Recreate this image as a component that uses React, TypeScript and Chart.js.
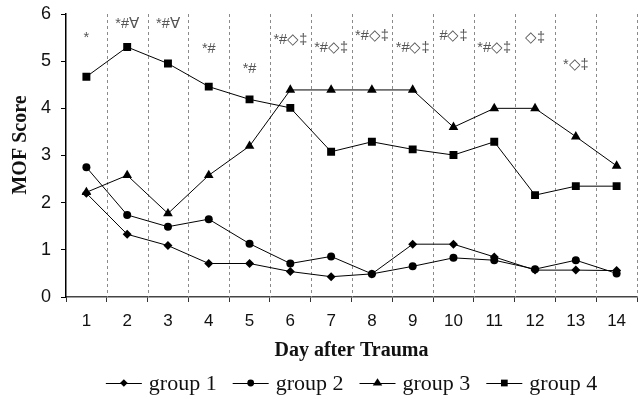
import React, { useEffect, useRef } from "react";
import { Chart, registerables } from "chart.js";

Chart.register(...registerables);

const days = ["1", "2", "3", "4", "5", "6", "7", "8", "9", "10", "11", "12", "13", "14"];
const group1 = [2.2, 1.33, 1.09, 0.71, 0.71, 0.54, 0.43, 0.49, 1.12, 1.12, 0.85, 0.57, 0.57, 0.56];
const group2 = [2.75, 1.74, 1.49, 1.65, 1.13, 0.71, 0.86, 0.49, 0.65, 0.83, 0.78, 0.59, 0.78, 0.5];
const group3 = [2.22, 2.58, 1.77, 2.58, 3.2, 4.39, 4.39, 4.39, 4.39, 3.6, 4.0, 4.0, 3.4, 2.78];
const group4 = [4.67, 5.3, 4.95, 4.46, 4.19, 4.01, 3.08, 3.29, 3.13, 3.01, 3.29, 2.16, 2.35, 2.35];
const seriesNames = ["group 1", "group 2", "group 3", "group 4"];
const significance = ["*", "*#\u2200", "*#\u2200", "*#", "*#", "*#\u25C7\u2021", "*#\u25C7\u2021", "*#\u25C7\u2021", "*#\u25C7\u2021", "#\u25C7\u2021", "*#\u25C7\u2021", "\u25C7\u2021", "*\u25C7\u2021", ""];
const significanceLevel = [5.49, 5.78, 5.78, 5.25, 4.83, 5.44, 5.28, 5.53, 5.28, 5.53, 5.28, 5.49, 4.92, 5.0];
const yTitle = "MOF Score";
const xTitle = "Day after Trauma";

const pointShapes = ["rectRot", "circle", "triangle", "rect"];
const pointSizes = [4.5, 4, 5.6, 5.6];

function drawShape(ctx: CanvasRenderingContext2D, shape: string, x: number, y: number, r: number) {
  ctx.beginPath();
  if (shape === "rectRot") {
    ctx.moveTo(x, y - r);
    ctx.lineTo(x + r, y);
    ctx.lineTo(x, y + r);
    ctx.lineTo(x - r, y);
    ctx.closePath();
  } else if (shape === "circle") {
    ctx.arc(x, y, r, 0, Math.PI * 2);
  } else if (shape === "triangle") {
    const h = r * 1.5;
    ctx.moveTo(x, y - r);
    ctx.lineTo(x + r, y + h - r);
    ctx.lineTo(x - r, y + h - r);
    ctx.closePath();
  } else {
    const s = r * Math.SQRT1_2;
    ctx.rect(x - s, y - s, 2 * s, 2 * s);
  }
  ctx.fill();
}

const dashedGrid = {
  id: "dashedGrid",
  beforeDatasetsDraw(chart: any) {
    const { ctx, chartArea, scales } = chart;
    const xs = scales.x;
    ctx.save();
    ctx.strokeStyle = "#8a8a8a";
    ctx.lineWidth = 1;
    ctx.setLineDash([3, 3]);
    for (let i = 1; i <= days.length; i++) {
      let px: number;
      if (i === days.length) px = chartArea.right;
      else px = (xs.getPixelForValue(i - 1) + xs.getPixelForValue(i)) / 2;
      px = Math.round(px) + 0.5;
      ctx.beginPath();
      ctx.moveTo(px, chartArea.top);
      ctx.lineTo(px, chartArea.bottom);
      ctx.stroke();
    }
    ctx.restore();
  },
};

const extras = {
  id: "extras",
  afterDraw(chart: any) {
    const { ctx, chartArea, scales } = chart;
    const xs = scales.x;
    const ys = scales.y;
    ctx.save();
    // significance markers
    ctx.fillStyle = "#555";
    ctx.font = "14.5px 'Liberation Sans', Arial, sans-serif";
    ctx.textAlign = "center";
    ctx.textBaseline = "middle";
    significance.forEach((s, i) => {
      if (!s) return;
      ctx.fillText(s, xs.getPixelForValue(i), ys.getPixelForValue(significanceLevel[i]));
    });
    // y title
    ctx.fillStyle = "#111";
    ctx.save();
    ctx.translate(21, 145);
    ctx.rotate(-Math.PI / 2);
    ctx.font = "bold 20px 'Liberation Serif', 'Times New Roman', serif";
    ctx.textAlign = "center";
    ctx.textBaseline = "middle";
    ctx.fillText(yTitle, 0, 0);
    ctx.restore();
    // legend
    ctx.font = "22px 'Liberation Serif', 'Times New Roman', serif";
    ctx.textBaseline = "middle";
    ctx.textAlign = "left";
    const lineW = 36;
    const gapAfterLine = 7;
    const gapItem = 16;
    const widths = seriesNames.map((n) => lineW + gapAfterLine + ctx.measureText(n).width);
    const total = widths.reduce((a, b) => a + b, 0) + gapItem * (seriesNames.length - 1);
    let x = (chartArea.left + chartArea.right) / 2 - total / 2;
    const ly = 383;
    seriesNames.forEach((n, i) => {
      ctx.strokeStyle = "#000";
      ctx.fillStyle = "#000";
      ctx.lineWidth = 1;
      ctx.setLineDash([]);
      ctx.beginPath();
      ctx.moveTo(x, ly + 0.5);
      ctx.lineTo(x + lineW, ly + 0.5);
      ctx.stroke();
      drawShape(ctx, pointShapes[i], x + lineW / 2, ly, pointSizes[i] * 0.85);
      ctx.fillStyle = "#111";
      ctx.fillText(n, x + lineW + gapAfterLine, ly + 1);
      x += widths[i] + gapItem;
    });
    ctx.restore();
  },
};

export default function App() {
  const canvasRef = useRef<HTMLCanvasElement | null>(null);

  useEffect(() => {
    document.body.style.margin = "0";
    const canvas = canvasRef.current;
    if (!canvas) return;
    const allSeries = [group1, group2, group3, group4];
    const chart = new Chart(canvas, {
      type: "line",
      data: {
        labels: days,
        datasets: allSeries.map((d, i) => ({
          label: seriesNames[i],
          data: d,
          borderColor: "#000",
          backgroundColor: "#000",
          borderWidth: 1,
          pointStyle: pointShapes[i] as any,
          pointRadius: pointSizes[i],
          pointBackgroundColor: "#000",
          pointBorderColor: "#000",
          pointBorderWidth: 0,
          tension: 0,
        })),
      },
      options: {
        animation: false,
        responsive: false,
        maintainAspectRatio: false,
        layout: { padding: { left: 0, right: 6, top: 14, bottom: 38 } },
        plugins: {
          legend: { display: false },
          tooltip: { enabled: false },
        },
        scales: {
          x: {
            type: "category",
            offset: true,
            grid: {
              offset: true,
              drawOnChartArea: false,
              drawTicks: true,
              tickLength: 5,
              color: "#333",
            },
            border: { display: true, color: "#444", width: 1.5 },
            ticks: {
              color: "#111",
              padding: 9,
              font: { family: "'Liberation Sans', Arial, sans-serif", size: 17 },
              maxRotation: 0,
              autoSkip: false,
            },
            title: {
              display: true,
              text: xTitle,
              color: "#111",
              padding: { top: 0, bottom: 0 },
              font: { family: "'Liberation Serif', 'Times New Roman', serif", size: 20, weight: "bold" },
            },
            afterFit(scale: any) {
              scale.height = 66;
              scale.paddingLeft = 0;
              scale.paddingRight = 0;
            },
          },
          y: {
            min: 0,
            max: 6,
            grid: {
              drawOnChartArea: false,
              drawTicks: true,
              tickLength: 5,
              color: "#000",
            },
            border: { display: true, color: "#000", width: 1.5 },
            ticks: {
              stepSize: 1,
              color: "#111",
              padding: 10,
              font: { family: "'Liberation Sans', Arial, sans-serif", size: 18 },
            },
            afterFit(scale: any) {
              scale.width = 66;
              scale.paddingTop = 0;
              scale.paddingBottom = 0;
            },
          },
        },
      },
      plugins: [dashedGrid, extras],
    });
    return () => chart.destroy();
  }, []);

  return (
    <div style={{ width: 643, height: 401 }}>
      <canvas ref={canvasRef} width={643} height={401} style={{ display: "block" }} />
    </div>
  );
}
